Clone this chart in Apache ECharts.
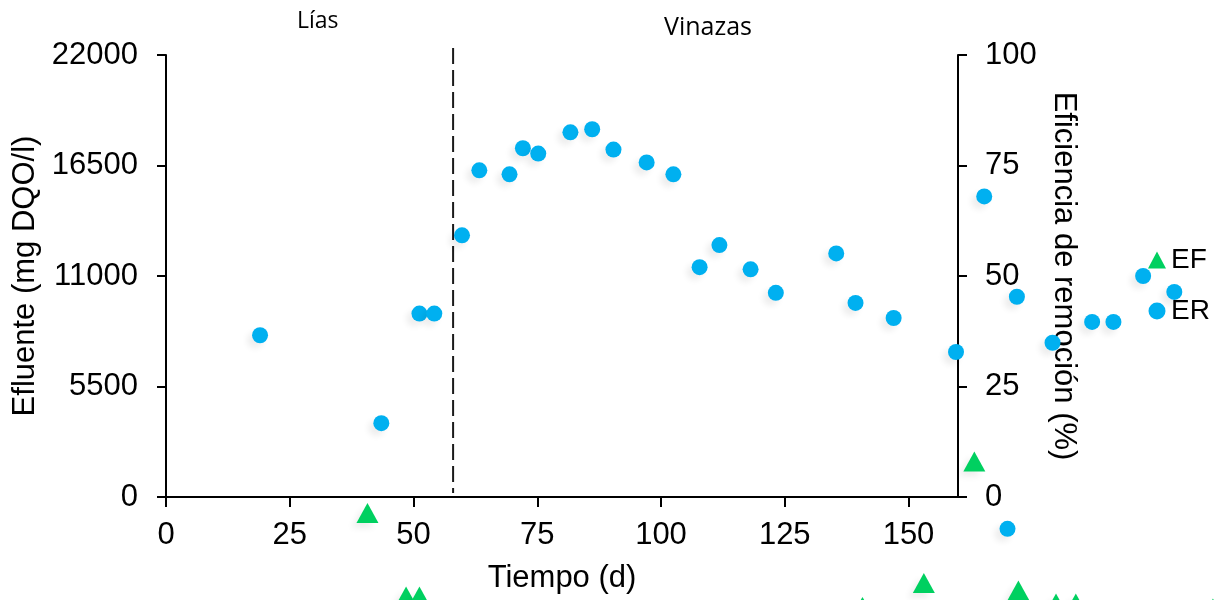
<!DOCTYPE html>
<html><head><meta charset="utf-8">
<script src="https://cdn.jsdelivr.net/npm/echarts@6/dist/echarts.min.js"></script>
<style>html,body{margin:0;padding:0;background:#fff}#c{width:1217px;height:600px}</style>
</head><body><div id="c"></div>
<script>
// Time axis ticks (d)
const xTicks = [0, 25, 50, 75, 100, 125, 150];
// ER: Eficiencia de remoción (%) – circles, right axis
const erDays   = [19.0, 43.5, 51.2, 54.2, 59.8, 63.3, 69.4, 72.1, 75.2, 81.7, 86.1, 90.4, 97.1, 102.5, 107.8, 111.8, 118.1, 123.2, 135.4, 139.3, 147.0, 159.6, 165.3, 170.0, 171.9, 179.1, 187.1, 191.4, 197.4, 203.7];
const erValues = [36.6, 16.7, 41.5, 41.5, 59.2, 73.9, 73.0, 78.9, 77.7, 82.5, 83.2, 78.6, 75.7, 73.0, 52.0, 57.0, 51.5, 46.2, 55.1, 43.9, 40.5, 32.8, 68.0, -7.2, 45.3, 34.9, 39.6, 39.6, 50.0, 46.4];
// EF: Efluente (mg DQO/l) – triangles, left axis
const efDays   = [40.7, 48.5, 51.2, 140.7, 153.1, 163.3, 172.2, 179.8, 183.8, 211.5];
const efValues = [-800, -4950, -4950, -5470, -4280, 1770, -4650, -5300, -5300, -5550];
// Phase divider (Lías | Vinazas)
const dividerDay = 58;
const dividerSpan = [22350, 200];

const FONT = "'Liberation Sans', Arial, sans-serif";
const shadow = {shadowColor: 'rgba(0,0,0,0.07)', shadowBlur: 6, shadowOffsetX: -5, shadowOffsetY: 5};

const chart = echarts.init(document.getElementById('c'), null, {renderer: 'canvas'});
chart.setOption({
  animation: false,
  backgroundColor: '#fff',
  textStyle: {fontFamily: FONT},
  grid: {left: 166, right: 259, top: 55, bottom: 103, containLabel: false, outerBoundsMode: 'none'},
  legend: {
    data: ['EF', 'ER'], orient: 'vertical', left: 1143, top: 241,
    itemWidth: 18, itemHeight: 17, itemGap: 23,
    textStyle: {fontSize: 28, color: '#000', fontFamily: FONT},
    selectedMode: false
  },
  graphic: [
    {type: 'text', left: 297, top: 10, style: {text: 'Lías', font: "23px 'Open Sans', sans-serif", fill: '#000'}},
    {type: 'text', left: 664, top: 15, style: {text: 'Vinazas', font: "25px 'Open Sans', sans-serif", fill: '#000'}}
  ],
  xAxis: {
    type: 'value', min: 0, max: 160, interval: 25,
    name: 'Tiempo (d)', nameLocation: 'middle', nameGap: 66,
    nameTextStyle: {fontSize: 31, color: '#000', fontFamily: FONT},
    axisLine: {show: true, lineStyle: {color: '#000', width: 2}},
    axisTick: {show: true, length: 10, lineStyle: {color: '#000', width: 2}, customValues: xTicks},
    axisLabel: {fontSize: 31, color: '#000', margin: 23, customValues: xTicks, fontFamily: FONT},
    splitLine: {show: false}
  },
  yAxis: [
    {
      type: 'value', min: 0, max: 22000, interval: 5500, position: 'left',
      name: 'Efluente (mg DQO/l)', nameLocation: 'middle', nameGap: 124, nameRotate: 90,
      nameTextStyle: {fontSize: 31, color: '#000', fontFamily: FONT},
      axisLine: {show: true, lineStyle: {color: '#000', width: 2}},
      axisTick: {show: true, length: 9, lineStyle: {color: '#000', width: 2}},
      axisLabel: {fontSize: 31, color: '#000', margin: 28, fontFamily: FONT, formatter: v => String(v)},
      splitLine: {show: false}
    },
    {
      type: 'value', min: 0, max: 100, interval: 25, position: 'right',
      name: 'Eficiencia de remoción (%)', nameLocation: 'middle', nameGap: 88, nameRotate: -90,
      nameTextStyle: {fontSize: 31, color: '#000', fontFamily: FONT},
      axisLine: {show: true, lineStyle: {color: '#000', width: 2}},
      axisTick: {show: true, length: 9, lineStyle: {color: '#000', width: 2}},
      axisLabel: {fontSize: 31, color: '#000', margin: 27, fontFamily: FONT, formatter: v => String(v)},
      splitLine: {show: false}
    }
  ],
  series: [
    {
      name: 'divider', type: 'line', yAxisIndex: 0, silent: true, clip: false, symbol: 'none',
      data: [[dividerDay, dividerSpan[0]], [dividerDay, dividerSpan[1]]],
      lineStyle: {color: '#1a1a1a', width: 2, type: [16, 6]}, z: 1
    },
    {
      name: 'EF', type: 'scatter', yAxisIndex: 0, clip: false, symbol: 'triangle', symbolSize: [22, 20],
      data: efDays.map((d, i) => [d, efValues[i]]),
      itemStyle: Object.assign({color: '#00D060', opacity: 1}, shadow), z: 3
    },
    {
      name: 'ER', type: 'scatter', yAxisIndex: 1, clip: false, symbol: 'circle', symbolSize: 16,
      data: erDays.map((d, i) => [d, erValues[i]]),
      itemStyle: Object.assign({color: '#00B0F0', opacity: 1}, shadow), z: 3
    }
  ]
});
</script></body></html>
